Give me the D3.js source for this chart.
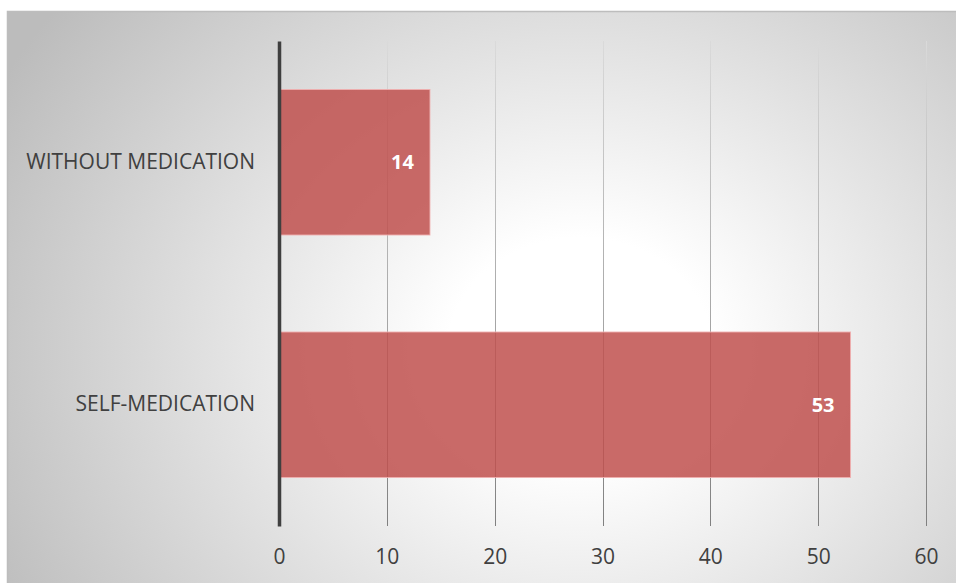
<!DOCTYPE html>
<html>
<head>
<meta charset="utf-8">
<script src="https://cdn.jsdelivr.net/npm/d3@7"></script>
<style>
  html, body { margin: 0; padding: 0; background: #ffffff; }
  svg { display: block; }
  text { font-family: "Open Sans", "Noto Sans", sans-serif; }
</style>
</head>
<body>
<svg id="chart" width="956" height="583"></svg>
<script>
const categories = ["WITHOUT MEDICATION", "SELF-MEDICATION"];
const values = [14, 53];
const xTicks = [0, 10, 20, 30, 40, 50, 60];

const W = 956, H = 583;
const svg = d3.select("#chart");
const defs = svg.append("defs");

const bg = defs.append("radialGradient")
  .attr("id", "bgGrad")
  .attr("gradientUnits", "userSpaceOnUse")
  .attr("cx", 580).attr("cy", 350).attr("r", 660)
  .attr("gradientTransform", "translate(580,350) scale(1,0.85) translate(-580,-350)");
bg.append("stop").attr("offset", 0).attr("stop-color", "#ffffff");
bg.append("stop").attr("offset", 0.2).attr("stop-color", "#ffffff");
bg.append("stop").attr("offset", 1).attr("stop-color", "#bcbcbc");

const plotTop = 41, plotBottom = 526, plotLeft = 279, plotRight = 926;

const gg = defs.append("linearGradient")
  .attr("id", "gridGrad")
  .attr("gradientUnits", "userSpaceOnUse")
  .attr("x1", 0).attr("y1", plotTop).attr("x2", 0).attr("y2", plotBottom);
gg.append("stop").attr("offset", 0).attr("stop-color", "#dadada");
gg.append("stop").attr("offset", 1).attr("stop-color", "#808080");

// background panel
svg.append("rect")
  .attr("x", 7).attr("y", 11).attr("width", W - 7).attr("height", H - 11)
  .attr("fill", "url(#bgGrad)");
svg.append("path")
  .attr("d", `M7.5,${H}V11.5H${W}`)
  .attr("fill", "none").attr("stroke", "#bdbdbd").attr("stroke-width", 1.5);

const x = d3.scaleLinear().domain([0, 60]).range([plotLeft, plotRight]);
const y = d3.scaleBand().domain(categories).range([plotTop, plotBottom])
  .paddingInner(0.4).paddingOuter(0.2);

// gridlines (drawn in absolute coordinates so the gradient maps top->bottom)
svg.append("g").selectAll("line")
  .data(xTicks.slice(1))
  .join("line")
  .attr("x1", d => Math.round(x(d)) + 0.5)
  .attr("x2", d => Math.round(x(d)) + 0.5)
  .attr("y1", plotTop)
  .attr("y2", plotBottom)
  .attr("stroke", "url(#gridGrad)")
  .attr("stroke-width", 1);

// bars
svg.append("g").selectAll("rect")
  .data(categories)
  .join("rect")
  .attr("x", x(0))
  .attr("y", d => y(d))
  .attr("width", (d, i) => x(values[i]) - x(0))
  .attr("height", y.bandwidth())
  .attr("fill", "rgba(192,80,77,0.85)")
  .attr("stroke", "rgba(240,175,175,0.9)")
  .attr("stroke-width", 1);

// x tick labels
const xa = svg.append("g").attr("transform", `translate(0,${plotBottom})`)
  .call(d3.axisBottom(x).tickValues(xTicks).tickSize(0).tickPadding(0));
xa.select(".domain").remove();
xa.selectAll("text")
  .attr("y", 31).attr("dy", "0.35em")
  .attr("fill", "#404040")
  .style("font-size", "21px")
  .style("font-family", "'Open Sans', sans-serif");

// y axis
const ya = svg.append("g").attr("transform", `translate(${plotLeft},0)`)
  .call(d3.axisLeft(y).tickSize(0).tickPadding(24));
ya.select(".domain").attr("stroke", "#3f3f3f").attr("stroke-width", 3.5);
ya.selectAll("text")
  .attr("fill", "#404040")
  .style("font-size", "21px")
  .style("font-family", "'Open Sans', sans-serif");

// data labels
svg.append("g").selectAll("text")
  .data(categories)
  .join("text")
  .attr("x", (d, i) => x(values[i]) - 16)
  .attr("y", d => y(d) + y.bandwidth() / 2)
  .attr("dy", "0.35em")
  .attr("text-anchor", "end")
  .attr("fill", "#ffffff")
  .style("font-size", "20px")
  .style("font-weight", "bold")
  .text((d, i) => values[i]);
</script>
</body>
</html>
